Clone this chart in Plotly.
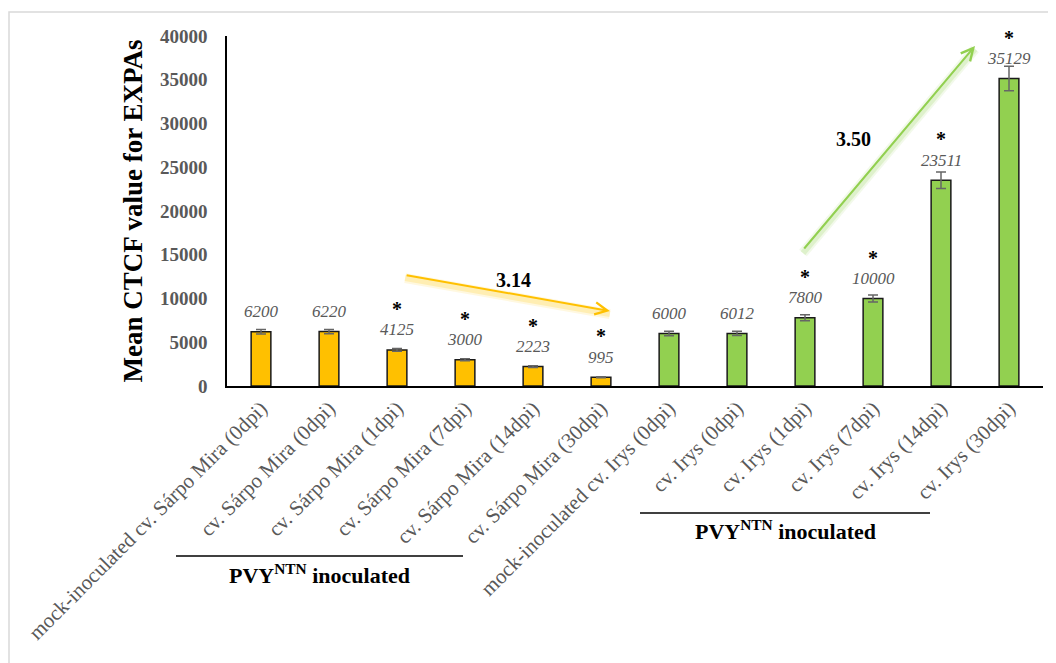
import plotly.graph_objects as go

categories = [
    "mock-inoculated cv. Sárpo Mira (0dpi)",
    "cv. Sárpo Mira (0dpi)",
    "cv. Sárpo Mira (1dpi)",
    "cv. Sárpo Mira (7dpi)",
    "cv. Sárpo Mira (14dpi)",
    "cv. Sárpo Mira (30dpi)",
    "mock-inoculated cv. Irys (0dpi)",
    "cv. Irys (0dpi)",
    "cv. Irys (1dpi)",
    "cv. Irys (7dpi)",
    "cv. Irys (14dpi)",
    "cv. Irys (30dpi)",
]
values = [6200, 6220, 4125, 3000, 2223, 995, 6000, 6012, 7800, 10000, 23511, 35129]
errors = [250, 250, 150, 120, 100, 60, 250, 250, 350, 400, 950, 1400]
significant = [False, False, True, True, True, True, False, False, True, True, True, True]
value_labels = ["6200", "6220", "4125", "3000", "2223", "995",
                "6000", "6012", "7800", "10000", "23511", "35129"]
bar_colors = ["#FFC000"] * 6 + ["#92D050"] * 6
y_ticks = [0, 5000, 10000, 15000, 20000, 25000, 30000, 35000, 40000]

SERIF = "Palatino Linotype, Book Antiqua, Palatino, Liberation Serif, serif"
GRAY = "#595959"

x_idx = list(range(len(categories)))

fig = go.Figure()
fig.add_trace(go.Bar(
    x=x_idx, y=values, width=0.29,
    marker=dict(color=bar_colors, line=dict(color="#1a1a1a", width=1.5)),
    error_y=dict(type="data", array=errors, color="#666666", thickness=1.5, width=5),
    hoverinfo="skip",
))

annotations = []
for i, (v, lab, sig) in enumerate(zip(values, value_labels, significant)):
    annotations.append(dict(x=i, y=v, text=lab, showarrow=False, yshift=20,
                            font=dict(family=SERIF, size=17, color=GRAY, style="italic"),
                            xanchor="center", yanchor="middle"))
    if sig:
        annotations.append(dict(x=i, y=v, text="<b>*</b>", showarrow=False, yshift=41,
                                font=dict(family=SERIF, size=20, color="black"),
                                xanchor="center", yanchor="middle"))

# trend arrows (data coords)
orange_arrow = dict(x0=2.12, y0=12686, x1=5.13, y1=8571)
green_arrow = dict(x0=7.97, y0=15543, x1=10.5, y1=38857)

shapes = []
# soft glow under arrows
for a, col in [(orange_arrow, "rgba(255,200,0,{})"), (green_arrow, "rgba(146,208,80,{})")]:
    for w, op in [(10, 0.12), (6, 0.2)]:
        shapes.append(dict(type="line", xref="x", yref="y", x0=a["x0"], y0=a["y0"] - 350,
                           x1=a["x1"], y1=a["y1"] - 350,
                           line=dict(color=col.format(op), width=w), layer="below"))

for a, col in [(orange_arrow, "#FFC000"), (green_arrow, "#92D050")]:
    annotations.append(dict(x=a["x1"], y=a["y1"], ax=a["x0"], ay=a["y0"],
                            xref="x", yref="y", axref="x", ayref="y", text="",
                            showarrow=True, arrowhead=5, arrowsize=1.2, arrowwidth=2,
                            arrowcolor=col))

annotations.append(dict(x=3.71, y=12114, text="<b>3.14</b>", showarrow=False,
                        font=dict(family=SERIF, size=20, color="black")))
annotations.append(dict(x=8.71, y=28229, text="<b>3.50</b>", showarrow=False,
                        font=dict(family=SERIF, size=20, color="black")))

# plot area: screen x 227..1043, y 36..386
def px_x(px):
    return (px - 227) / 816

def px_y(py):
    return (386 - py) / 350

for x0, x1, ly, ty in [(176, 463, 556, 574), (640, 930, 513, 530)]:
    shapes.append(dict(type="line", xref="paper", yref="paper",
                       x0=px_x(x0), x1=px_x(x1), y0=px_y(ly), y1=px_y(ly),
                       line=dict(color="black", width=1.5)))
    annotations.append(dict(xref="paper", yref="paper", x=px_x((x0 + x1) / 2), y=px_y(ty),
                            text="<b>PVY<sup>NTN</sup> inoculated</b>", showarrow=False,
                            xanchor="center", yanchor="middle",
                            font=dict(family=SERIF, size=22, color="black")))

# outer chart border
shapes.append(dict(type="rect", xref="paper", yref="paper",
                   x0=px_x(9), x1=px_x(1070), y0=px_y(680), y1=px_y(12),
                   line=dict(color="#d9d9d9", width=1.5), layer="below"))

# page body has an 8px default margin, so the figure is sized/offset accordingly
fig.update_layout(
    width=1048, height=655,
    margin=dict(l=219, r=13, t=28, b=277),
    paper_bgcolor="white", plot_bgcolor="white",
    showlegend=False,
    annotations=annotations, shapes=shapes,
    xaxis=dict(range=[-0.5, 11.5], tickmode="array", tickvals=x_idx, ticktext=categories,
               tickangle=-45, showgrid=False, zeroline=False,
               showline=True, linecolor="black", linewidth=1.5, ticks="",
               tickfont=dict(family=SERIF, size=21, color=GRAY), automargin=False),
    yaxis=dict(range=[0, 40000], tickvals=y_ticks, tickformat="d",
               showgrid=False, zeroline=False,
               showline=True, linecolor="black", linewidth=1.5, ticks="",
               ticklabelstandoff=14,
               tickfont=dict(family=SERIF, size=19, color=GRAY, weight="bold"),
               title=dict(text="<b>Mean CTCF value for EXPAs</b>", standoff=10,
                          font=dict(family=SERIF, size=27, color="black")),
               automargin=False),
)

fig.write_html("out.html")
